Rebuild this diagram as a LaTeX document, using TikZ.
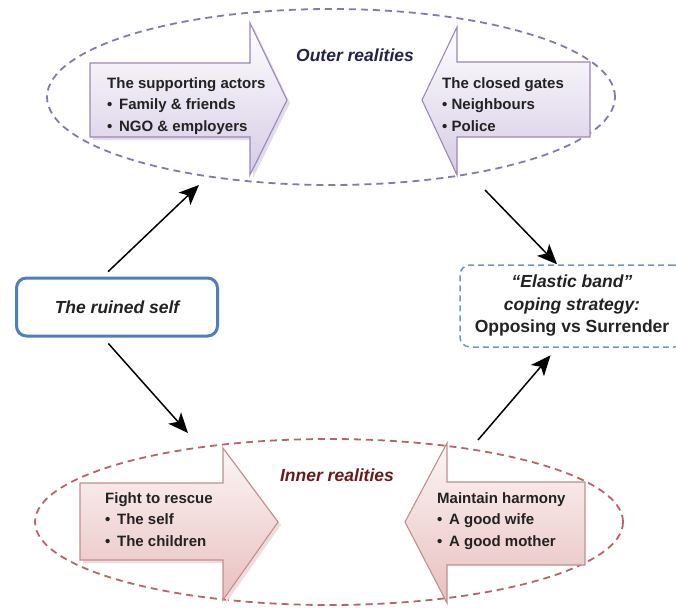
\documentclass[tikz,border=0pt]{standalone}
\usepackage{fontspec}
\setmainfont{Liberation Sans}
\usetikzlibrary{arrows.meta,shapes.geometric}
\definecolor{outerline}{HTML}{8878AA}
\definecolor{outeredge}{HTML}{9C86BB}
\definecolor{outerfill}{HTML}{D6CBE5}
\definecolor{innerline}{HTML}{B86464}
\definecolor{inneredge}{HTML}{C48D8D}
\definecolor{innerfill}{HTML}{E9BFBF}
\definecolor{selfblue}{HTML}{4D7FBD}
\definecolor{bandblue}{HTML}{6B98C9}
\definecolor{textdark}{HTML}{222222}
\definecolor{outertitle}{HTML}{23234A}
\definecolor{innertitle}{HTML}{6B1A1A}

\tikzset{
  realm/.style={ellipse, dashed, line width=1.8pt, dash pattern=on 7pt off 5pt},
  outerarrow/.style={draw=outeredge, line width=1.1pt, top color=white, bottom color=outerfill},
  innerarrow/.style={draw=inneredge, line width=1.1pt, top color=white!85!innerfill, bottom color=innerfill},
  lbl/.style={font=\bfseries\fontsize{15}{21.5}\selectfont, align=left, anchor=north west, text=textdark, inner sep=0pt},
  title/.style={font=\bfseries\itshape\fontsize{17.5}{20}\selectfont},
  conn/.style={-{Stealth[length=20pt,width=17pt,inset=5pt]}, line width=1.5pt}
}

\begin{document}
\begin{tikzpicture}[x=1pt,y=-1pt]
        \useasboundingbox (0,0) rectangle (676,607);
        \clip (0,0) rectangle (676,607);
        % outer realities
        \node[realm, draw=outerline, minimum width=568pt, minimum height=176pt](outer) at (331,97) {};
        \fill[outeredge!30] (93,66) -- (253,66) -- (253,26) -- (290,103) -- (253,178) -- (253,140) -- (93,140) -- cycle;
        \path[outerarrow] (90,63) -- (250,63) -- (250,23) -- (287,100) -- (250,175) -- (250,137) -- (90,137) -- cycle;
        \path[outerarrow] (422,100) -- (457,27) -- (457,62) -- (590,62) -- (590,137) -- (457,137) -- (457,175) -- cycle;
        \node[title, text=outertitle](outert) at (355,55) {Outer realities};
        \node[lbl](support) at (107,77) {The supporting actors\\\textbullet\ \,Family \& friends\\\textbullet\ \,NGO \& employers};
        \node[lbl](gates) at (442,77) {The closed gates\\\textbullet\ Neighbours\\\textbullet\ Police};
        % inner realities
        \node[realm, draw=innerline, minimum width=588pt, minimum height=166pt](inner) at (329,522) {};
        \fill[inneredge!30] (83,486) -- (226,486) -- (226,451) -- (281,525) -- (226,603) -- (226,563) -- (83,563) -- cycle;
        \path[innerarrow] (80,483) -- (223,483) -- (223,448) -- (278,522) -- (223,600) -- (223,560) -- (80,560) -- cycle;
        \path[innerarrow] (405,522) -- (447,443) -- (447,482) -- (585,482) -- (585,565) -- (447,565) -- (447,603) -- cycle;
        \node[title, text=innertitle](innert) at (337,475) {Inner realities};
        \node[lbl](rescue) at (105,492) {Fight to rescue\\\textbullet\ \,The self\\\textbullet\ \,The children};
        \node[lbl](harmony) at (437,492) {Maintain harmony\\\textbullet\ \,A good wife\\\textbullet\ \,A good mother};
        % the self and the strategy
        \node[draw=selfblue, line width=3pt, rounded corners=10pt, fill=white, minimum width=201pt, minimum height=58pt,
              title, text=textdark](ruined) at (117,307) {The ruined self};
        \node[draw=bandblue, line width=1.5pt, dash pattern=on 6pt off 4pt, rounded corners=10pt, minimum width=224pt, minimum height=82pt,
              align=center, font=\bfseries\fontsize{17.5}{22.5}\selectfont, text=textdark](elastic) at (572,306)
              {\itshape ``Elastic band''\\\itshape coping strategy:\\Opposing vs Surrender};
        \coordinate(t1) at (199,185);
        \coordinate(s2) at (485,190);
        \coordinate(t3) at (188,433);
        \coordinate(s4) at (478,440);
        \draw[conn, shorten <=7pt](ruined.north -| 103,0)--(t1);
        \draw[conn](s2)--([xshift=-15pt]elastic.north);
        \draw[conn, shorten <=8pt](ruined.south -| 103,0)--(t3);
        \draw[conn, shorten >=10pt](s4)--([xshift=-15pt]elastic.south);
        \end{tikzpicture}
\end{document}
